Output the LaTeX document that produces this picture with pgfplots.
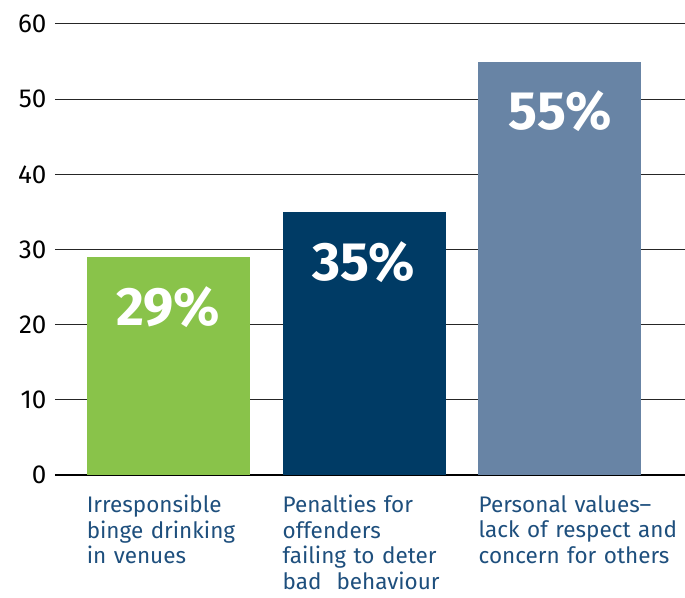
\documentclass[border=0pt]{standalone}
\usepackage{pgfplots}
\pgfplotsset{compat=1.18}
\usepackage{fontspec}
\setmainfont{Fira Sans}
\definecolor{cgreen}{RGB}{137,195,74}
\definecolor{cnavy}{RGB}{0,59,101}
\definecolor{cslate}{RGB}{104,132,165}
\definecolor{ctext}{RGB}{30,79,125}
\begin{document}
\begin{tikzpicture}
\begin{axis}[
  scale only axis,
  width=630pt, height=451pt,
  xmin=-0.577, xmax=2.638,
  ymin=0, ymax=60,
  ytick={0,10,...,60},
  xtick={0,1,2},
  xticklabels={{Irresponsible\\binge drinking\\in venues},
               {Penalties for\\offenders\\failing to deter\\bad~~behaviour},
               {Personal values--\\lack of respect and\\concern for others}},
  axis line style={draw=none},
  major tick length=0pt,
  ymajorgrids,
  grid style={black!85, line width=1pt},
  extra y ticks={0},
  extra y tick labels={},
  extra y tick style={grid style={black, line width=2.2pt}},
  /pgf/number format/assume math mode=true,
  yticklabel style={font=\fontsize{26}{26}\selectfont\addfontfeatures{Weight=300}, xshift=-5pt},
  xticklabel style={font=\fontsize{22.5}{25.5}\selectfont, text=ctext,
    align=left, text width=210pt, anchor=north west, xshift=-81.5pt, yshift=-20pt, inner sep=0pt},
  ybar, bar width=163pt, bar shift=0pt,
  nodes near coords={\pgfmathprintnumber{\pgfplotspointmeta}\%},
  every node near coord/.style={anchor=north, yshift=-26pt, text=white,
    font=\fontsize{54}{54}\selectfont\bfseries},
]
\addplot[draw=none, fill=cgreen] coordinates {(0,29)};
\addplot[draw=none, fill=cnavy] coordinates {(1,35)};
\addplot[draw=none, fill=cslate] coordinates {(2,55)};
\end{axis}
\pgfresetboundingbox
\path[use as bounding box] (-55pt,-122pt) rectangle (630pt,475pt);
\end{tikzpicture}
\end{document}
